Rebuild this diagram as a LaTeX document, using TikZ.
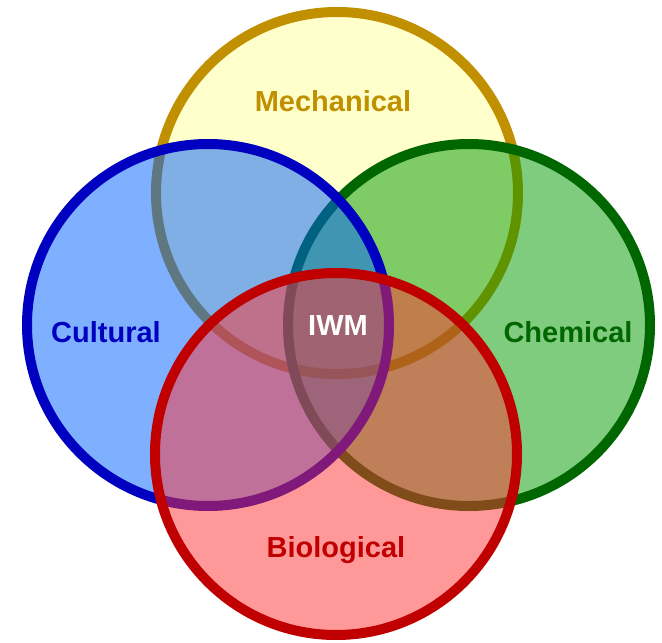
\documentclass[tikz,border=0pt]{standalone}
\usepackage{fontspec}
\setmainfont{Liberation Sans}
\definecolor{mechB}{RGB}{192,144,0}
\definecolor{mechF}{RGB}{255,255,204}
\definecolor{cultB}{RGB}{0,0,192}
\definecolor{cultF}{RGB}{0,96,255}
\definecolor{chemB}{RGB}{0,102,0}
\definecolor{chemF}{RGB}{0,153,0}
\definecolor{bioB}{RGB}{192,0,0}
\definecolor{bioF}{RGB}{255,51,51}
\begin{document}
\begin{tikzpicture}[x=1pt,y=1pt,
  ring/.style={circle, inner sep=0pt, minimum size=362pt, line width=10pt},
  lbl/.style={font=\bfseries\fontsize{29}{29}\selectfont, inner sep=0pt, anchor=center}]
\useasboundingbox (0,0) rectangle (662,-643);
\node[ring, draw=mechB, fill=mechF] (mech) at (337,-193) {};
\node[ring, draw=chemB, fill=chemF, fill opacity=0.5] (chem) at (469,-325) {};
\node[ring, draw=cultB, fill=cultF, fill opacity=0.5] (cult) at (208,-325) {};
\node[ring, draw=bioB, fill=bioF, fill opacity=0.5] (bio) at (336,-454) {};
\node[lbl, text=mechB] (tmech) at (333,-101) {Mechanical};
\node[lbl, text=cultB] (tcult) at (106,-332) {Cultural};
\node[lbl, text=chemB] (tchem) at (568,-332) {Chemical};
\node[lbl, text=bioB] (tbio) at (336,-550) {Biological};
\node[lbl, text=white] (tiwm) at (338,-326) {IWM};
\end{tikzpicture}
\end{document}
